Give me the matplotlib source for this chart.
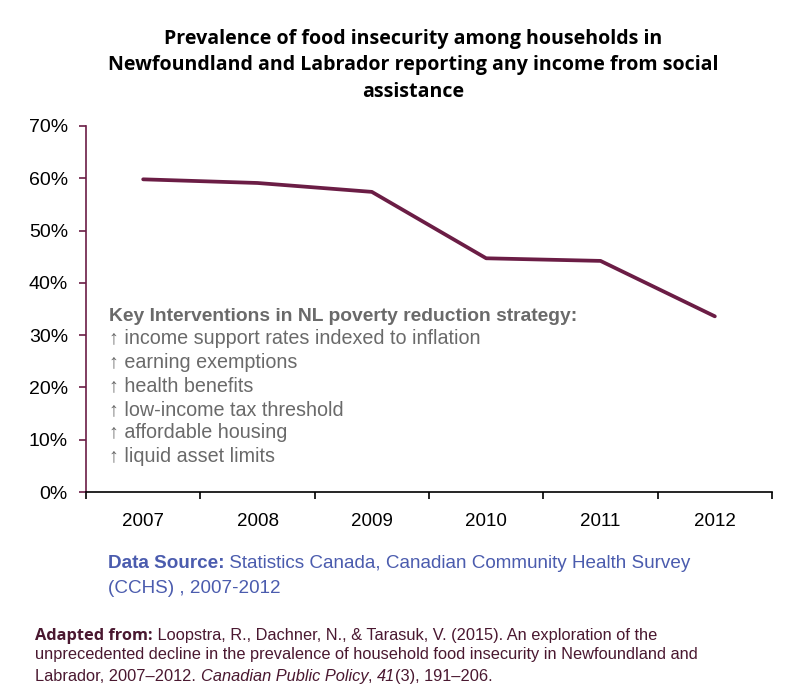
import matplotlib
matplotlib.use('Agg')
import matplotlib.pyplot as plt
from matplotlib.ticker import FuncFormatter

# data
years = ['2007', '2008', '2009', '2010', '2011', '2012']
prevalence = [59.8, 59.1, 57.4, 44.7, 44.2, 33.6]

interventions = [
    'income support rates indexed to inflation',
    'earning exemptions',
    'health benefits',
    'low-income tax threshold',
    'affordable housing',
    'liquid asset limits',
]

maroon = '#6b1d45'
grey = '#6a6a6a'
blue = '#4b5cae'
dark = '#4a1830'

plt.rcParams['font.family'] = ['Liberation Sans', 'DejaVu Sans']

fig = plt.figure(figsize=(8, 6.98), dpi=100)
ax = fig.add_axes([0.1075, 0.2951, 0.8575, 0.5244])

x = list(range(len(years)))
ax.plot(x, prevalence, color=maroon, lw=2.7, solid_capstyle='round')

ax.set_xlim(-0.5, len(years) - 0.5)
ax.set_ylim(0, 70)
ax.set_yticks(range(0, 71, 10))
ax.yaxis.set_major_formatter(FuncFormatter(lambda v, p: f'{int(v)}%'))
ax.set_xticks(x)
ax.set_xticklabels(years)
ax.set_xticks([i - 0.5 for i in range(len(years) + 1)], minor=True)

ax.spines['top'].set_visible(False)
ax.spines['right'].set_visible(False)
ax.spines['left'].set_color(maroon)
ax.spines['left'].set_linewidth(1.2)
ax.spines['bottom'].set_color('black')
ax.spines['bottom'].set_linewidth(1.2)

ax.tick_params(axis='y', colors=maroon, length=5, width=1.2, labelsize=14,
               labelcolor='black', pad=8)
ax.tick_params(axis='x', which='major', length=0, labelsize=13.5, pad=15)
ax.tick_params(axis='x', which='minor', length=5, width=1.2, color='black')

# annotation box of key interventions
top = 0.468
step = 0.0643
ax.text(0.034, top, 'Key Interventions in NL poverty reduction strategy:',
        transform=ax.transAxes, fontsize=13.9, fontweight='bold', color=grey,
        va='baseline')
for i, item in enumerate(interventions):
    ax.text(0.034, top - (i + 1) * step, '\u2191 ' + item,
            transform=ax.transAxes, fontsize=14.2, color=grey, va='baseline')

fig.suptitle('Prevalence of food insecurity among households in\n'
             'Newfoundland and Labrador reporting any income from social\n'
             'assistance', x=0.516, y=0.958, fontsize=14.1, fontweight='bold',
             family='Open Sans', linespacing=1.41, va='top')

# data source lines
ds = fig.text(0.135, 0.180, 'Data Source:', fontsize=13.6, fontweight='bold',
              color=blue, va='bottom')
ax.annotate(' Statistics Canada, Canadian Community Health Survey', xy=(1, 0),
            xycoords=ds, fontsize=13.6, color=blue, va='bottom',
            annotation_clip=False)
fig.text(0.135, 0.145, '(CCHS) , 2007-2012', fontsize=13.6, color=blue,
         va='bottom')

# citation
fs = 11.8
base1 = 0.0838
cit = fig.text(0.044, base1, 'Adapted from:', fontsize=fs, fontweight='bold',
               family=['Open Sans', 'DejaVu Sans'], color=dark, va='baseline')
ax.annotate(' Loopstra, R., Dachner, N., & Tarasuk, V. (2015). An exploration of the',
            xy=(1, base1), xycoords=(cit, 'figure fraction'), fontsize=fs,
            color=dark, va='baseline', annotation_clip=False)
fig.text(0.044, 0.051,
         'unprecedented decline in the prevalence of household food insecurity in Newfoundland and',
         fontsize=fs, color=dark, va='bottom')
c1 = fig.text(0.044, 0.020, 'Labrador, 2007\u20132012. ', fontsize=fs,
              color=dark, va='bottom')
c2 = ax.annotate('Canadian Public Policy', xy=(1, 0), xycoords=c1,
                 fontsize=fs, color=dark, style='italic', va='bottom',
                 annotation_clip=False)
c3 = ax.annotate(', ', xy=(1, 0), xycoords=c2, fontsize=fs, color=dark,
                 va='bottom', annotation_clip=False)
c4 = ax.annotate('41', xy=(1, 0), xycoords=c3, fontsize=fs, color=dark,
                 style='italic', va='bottom', annotation_clip=False)
ax.annotate('(3), 191\u2013206.', xy=(1, 0), xycoords=c4, fontsize=fs,
            color=dark, va='bottom', annotation_clip=False)

fig.savefig('out.png', dpi=100)
